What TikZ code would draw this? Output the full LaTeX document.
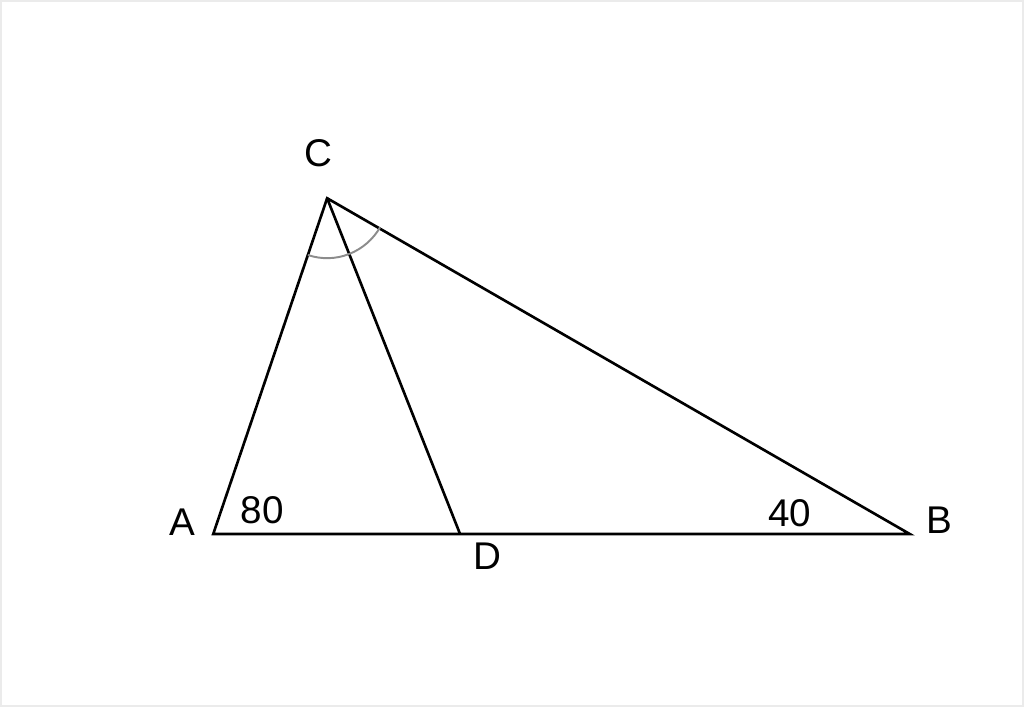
\documentclass[tikz,border=0pt]{standalone}
\usepackage{fontspec}
\setmainfont{Liberation Sans}
\begin{document}
\begin{tikzpicture}[lbl/.style={inner sep=0pt, font=\fontsize{22}{26}\selectfont}, side/.style={line width=1.5pt, line join=miter}, mark arc/.style={line width=1.1pt, black!45}]
    %Frame
    \draw[black!8, line width=1pt, fill=white] (0.01, 0.01) rectangle (20.47, 14.13);
    
    %Points
    \coordinate (pA) at (4.26, 3.46);
    \coordinate (pB) at (18.2, 3.46);
    \coordinate (pC) at (6.54, 10.18);
    \coordinate (pD) at (9.2, 3.46);
    
    %Labels
    \node[lbl] at (6.36, 11.08) (lC) {C};
    \node[lbl] at (3.64, 3.70) (lA) {A};
    \node[lbl] at (18.8, 3.74) (lB) {B};
    \node[lbl] at (9.74, 3.02) (lD) {D};
    \node[lbl] at (5.24, 3.94) (aA) {80};
    \node[lbl] at (15.8, 3.88) (aB) {40};
    
    %Lines
    \draw[side] (pA) -- (pB) -- (pC) -- cycle;
    \draw[side] (pC) -- (pD);
    
    %Arcs
    \draw[mark arc] ([shift={(251.3:1.2)}]pC) arc (251.3:291.6:1.2);
    \draw[mark arc] ([shift={(291.6:1.2)}]pC) arc (291.6:330:1.24);
    
\end{tikzpicture}
\end{document}
